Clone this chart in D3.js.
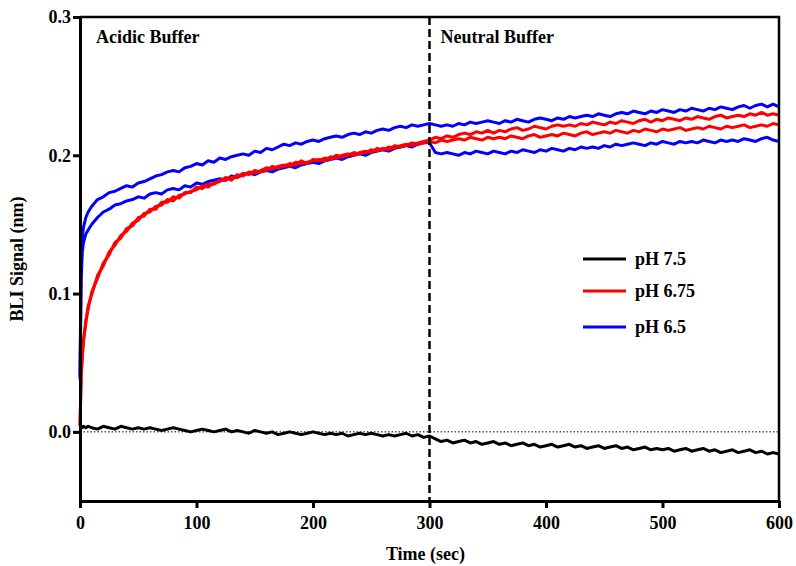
<!DOCTYPE html>
<html>
<head>
<meta charset="utf-8">
<script src="https://cdn.jsdelivr.net/npm/d3@7"></script>
<style>
    body { margin: 0; background: #fff; }
    .axis path, .axis line { stroke: #000; stroke-width: 3; }
</style>
</head>
<body>
<svg id="bli" width="796" height="566" font-family="Liberation Serif, Times New Roman, serif" font-weight="bold" font-size="18"></svg>
<script>
// time points (sec)
let times = [0, 1, 2, 3, 5, 7,
    10, 15, 20, 25, 30, 35, 40, 45, 50, 55,
    60, 65, 70, 75, 80, 85, 90, 95, 100, 105,
    110, 115, 120, 125, 130, 135, 140, 145, 150, 155,
    160, 165, 170, 175, 180, 185, 190, 195, 200, 205,
    210, 215, 220, 225, 230, 235, 240, 245, 250, 255,
    260, 265, 270, 275, 280, 285, 290, 295, 300, 305,
    310, 315, 320, 325, 330, 335, 340, 345, 350, 355,
    360, 365, 370, 375, 380, 385, 390, 395, 400, 405,
    410, 415, 420, 425, 430, 435, 440, 445, 450, 455,
    460, 465, 470, 475, 480, 485, 490, 495, 500, 505,
    510, 515, 520, 525, 530, 535, 540, 545, 550, 555,
    560, 565, 570, 575, 580, 585, 590, 595, 600]

let ph75 = [0.003, 0.004, 0.003, 0.004, 0.003, 0.004,
    0.003, 0.002, 0.004, 0.003, 0.002, 0.004, 0.003, 0.002, 0.003, 0.002,
    0.003, 0.002, 0.001, 0.002, 0.003, 0.002, 0.001, 0.000, 0.001, 0.002,
    0.001, 0.000, 0.001, 0.002, 0.000, 0.001, 0.000, -0.001, 0.001, 0.000,
    -0.001, 0.000, -0.002, -0.001, 0.000, -0.001, -0.002, -0.001, 0.000, -0.001,
    -0.002, -0.001, -0.002, -0.001, -0.003, -0.002, -0.001, -0.002, -0.001, -0.002,
    -0.003, -0.002, -0.003, -0.002, -0.001, -0.003, -0.002, -0.004, -0.003, -0.005,
    -0.007, -0.006, -0.008, -0.007, -0.006, -0.008, -0.007, -0.009, -0.008, -0.007,
    -0.009, -0.008, -0.010, -0.009, -0.008, -0.010, -0.009, -0.011, -0.010, -0.009,
    -0.011, -0.010, -0.009, -0.011, -0.010, -0.012, -0.011, -0.010, -0.012, -0.011,
    -0.010, -0.012, -0.011, -0.013, -0.012, -0.011, -0.013, -0.012, -0.013, -0.012,
    -0.014, -0.013, -0.012, -0.014, -0.013, -0.012, -0.014, -0.013, -0.015, -0.014,
    -0.013, -0.015, -0.014, -0.013, -0.015, -0.014, -0.016, -0.015, -0.016]

let ph675a = [0.005, 0.041, 0.055, 0.067, 0.079, 0.091,
    0.099, 0.113, 0.120, 0.130, 0.135, 0.142, 0.145, 0.151, 0.153, 0.158,
    0.159, 0.163, 0.164, 0.168, 0.167, 0.171, 0.172, 0.174, 0.175, 0.178,
    0.177, 0.180, 0.181, 0.184, 0.182, 0.186, 0.185, 0.188, 0.187, 0.189,
    0.191, 0.190, 0.192, 0.193, 0.192, 0.195, 0.194, 0.195, 0.196, 0.197,
    0.196, 0.199, 0.198, 0.200, 0.201, 0.200, 0.202, 0.203, 0.202, 0.205,
    0.204, 0.206, 0.205, 0.207, 0.208, 0.207, 0.209, 0.210, 0.211, 0.213,
    0.212, 0.214, 0.213, 0.215, 0.216, 0.215, 0.217, 0.216, 0.218, 0.216,
    0.218, 0.217, 0.219, 0.220, 0.218, 0.219, 0.221, 0.220, 0.219, 0.221,
    0.222, 0.221, 0.222, 0.221, 0.223, 0.222, 0.224, 0.223, 0.222, 0.224,
    0.223, 0.225, 0.224, 0.223, 0.225, 0.226, 0.224, 0.226, 0.225, 0.227,
    0.226, 0.225, 0.227, 0.226, 0.228, 0.227, 0.226, 0.228, 0.229, 0.227,
    0.228, 0.229, 0.228, 0.230, 0.229, 0.231, 0.229, 0.230, 0.229]

let ph675b = [0.004, 0.039, 0.056, 0.065, 0.080, 0.089,
    0.101, 0.111, 0.122, 0.128, 0.137, 0.140, 0.147, 0.149, 0.155, 0.156,
    0.161, 0.161, 0.166, 0.166, 0.170, 0.169, 0.173, 0.173, 0.177, 0.176,
    0.179, 0.179, 0.182, 0.182, 0.184, 0.184, 0.187, 0.186, 0.189, 0.188,
    0.189, 0.192, 0.191, 0.192, 0.194, 0.193, 0.196, 0.194, 0.197, 0.196,
    0.198, 0.197, 0.200, 0.199, 0.200, 0.202, 0.201, 0.202, 0.204, 0.203,
    0.205, 0.204, 0.207, 0.206, 0.207, 0.209, 0.208, 0.209, 0.210, 0.209,
    0.211, 0.210, 0.211, 0.212, 0.211, 0.213, 0.212, 0.211, 0.213, 0.212,
    0.213, 0.212, 0.214, 0.213, 0.212, 0.214, 0.215, 0.213, 0.214, 0.215,
    0.214, 0.216, 0.215, 0.214, 0.216, 0.217, 0.215, 0.216, 0.217, 0.216,
    0.218, 0.217, 0.216, 0.218, 0.217, 0.219, 0.218, 0.217, 0.219, 0.218,
    0.219, 0.220, 0.218, 0.219, 0.220, 0.219, 0.221, 0.220, 0.219, 0.221,
    0.220, 0.221, 0.222, 0.220, 0.221, 0.222, 0.221, 0.223, 0.222]

let ph65a = [0.040, 0.125, 0.141, 0.148, 0.155, 0.159,
    0.163, 0.168, 0.170, 0.173, 0.174, 0.176, 0.178, 0.177, 0.180, 0.181,
    0.183, 0.185, 0.186, 0.188, 0.189, 0.188, 0.191, 0.192, 0.194, 0.193,
    0.196, 0.195, 0.198, 0.197, 0.199, 0.200, 0.201, 0.200, 0.203, 0.202,
    0.205, 0.204, 0.206, 0.208, 0.207, 0.209, 0.208, 0.210, 0.211, 0.210,
    0.212, 0.213, 0.214, 0.213, 0.215, 0.216, 0.215, 0.217, 0.216, 0.218,
    0.219, 0.218, 0.220, 0.221, 0.220, 0.222, 0.221, 0.222, 0.223, 0.222,
    0.221, 0.222, 0.221, 0.223, 0.222, 0.224, 0.223, 0.224, 0.225, 0.224,
    0.223, 0.225, 0.224, 0.226, 0.225, 0.224, 0.226, 0.227, 0.226, 0.225,
    0.227, 0.226, 0.228, 0.227, 0.228, 0.229, 0.228, 0.230, 0.229, 0.228,
    0.230, 0.231, 0.230, 0.232, 0.231, 0.230, 0.232, 0.231, 0.233, 0.232,
    0.231, 0.233, 0.232, 0.234, 0.233, 0.232, 0.234, 0.233, 0.235, 0.234,
    0.233, 0.235, 0.236, 0.234, 0.236, 0.237, 0.235, 0.237, 0.235]

let ph65b = [0.038, 0.110, 0.130, 0.137, 0.143, 0.146,
    0.150, 0.155, 0.159, 0.161, 0.164, 0.165, 0.167, 0.168, 0.170, 0.169,
    0.172, 0.173, 0.172, 0.175, 0.176, 0.175, 0.178, 0.177, 0.180, 0.179,
    0.181, 0.182, 0.183, 0.182, 0.185, 0.184, 0.186, 0.187, 0.186, 0.188,
    0.189, 0.188, 0.190, 0.191, 0.192, 0.191, 0.193, 0.194, 0.195, 0.194,
    0.196, 0.197, 0.198, 0.197, 0.199, 0.200, 0.201, 0.200, 0.202, 0.203,
    0.204, 0.203, 0.205, 0.206, 0.207, 0.206, 0.208, 0.209, 0.209, 0.202,
    0.201, 0.202, 0.201, 0.200, 0.202, 0.201, 0.203, 0.202, 0.201, 0.203,
    0.202, 0.201, 0.203, 0.202, 0.204, 0.203, 0.202, 0.204, 0.203, 0.205,
    0.204, 0.203, 0.205, 0.204, 0.206, 0.205, 0.206, 0.205, 0.207, 0.206,
    0.208, 0.207, 0.208, 0.209, 0.208, 0.207, 0.209, 0.208, 0.210, 0.209,
    0.208, 0.210, 0.209, 0.210, 0.209, 0.211, 0.210, 0.209, 0.211, 0.210,
    0.211, 0.210, 0.212, 0.211, 0.210, 0.212, 0.213, 0.211, 0.210]

let xTicks = [0, 100, 200, 300, 400, 500, 600]
let yTicks = [0.0, 0.1, 0.2, 0.3]
let legendLabels = ['pH 7.5', 'pH 6.75', 'pH 6.5']
let legendColors = ['#000000', '#ff0000', '#0000ff']
let switchTime = 300

function main() {
    let svg = d3.select('#bli'),
        margin = {top: 17, bottom: 65, left: 80, right: 17},
        width = svg.attr('width') - margin.left - margin.right,
        height = svg.attr('height') - margin.top - margin.bottom

    let xScale = d3.scaleLinear().domain([0, 600]).range([margin.left, margin.left + width]),
        yScale = d3.scaleLinear().domain([-0.05, 0.3]).range([margin.top + height, margin.top])

    let series = [
        {values: ph75, color: '#000000'},
        {values: ph65a, color: '#0000ff'},
        {values: ph65b, color: '#0000ff'},
        {values: ph675b, color: '#ff0000'},
        {values: ph675a, color: '#ff0000'}
    ]

    // dotted zero line
    svg.append('line')
        .attr('x1', xScale(0)).attr('x2', xScale(600))
        .attr('y1', yScale(0)).attr('y2', yScale(0))
        .attr('stroke', '#000')
        .attr('stroke-width', 1)
        .attr('stroke-dasharray', '1.5,2')

    let line = d3.line()
        .x((d, i) => xScale(times[i]))
        .y(d => yScale(d))

    svg.selectAll('.trace')
        .data(series)
        .enter()
        .append('path')
        .attr('class', 'trace')
        .attr('fill', 'none')
        .attr('stroke', s => s.color)
        .attr('stroke-width', 3)
        .attr('stroke-linejoin', 'round')
        .attr('d', s => line(s.values))

    // buffer switch
    svg.append('line')
        .attr('x1', xScale(switchTime)).attr('x2', xScale(switchTime))
        .attr('y1', yScale(0.3)).attr('y2', yScale(-0.05))
        .attr('stroke', '#000')
        .attr('stroke-width', 2.5)
        .attr('stroke-dasharray', '8,4')

    // frame top and right
    svg.append('path')
        .attr('d', 'M' + xScale(0) + ',' + yScale(0.3) + 'H' + xScale(600) + 'V' + yScale(-0.05))
        .attr('fill', 'none')
        .attr('stroke', '#000')
        .attr('stroke-width', 2.5)

    svg.append('g')
        .attr('class', 'axis')
        .attr('transform', 'translate(0, ' + (margin.top + height) + ')')
        .call(d3.axisBottom(xScale).tickValues(xTicks).tickSize(7).tickSizeOuter(0).tickPadding(8))

    svg.append('g')
        .attr('class', 'axis')
        .attr('transform', 'translate(' + margin.left + ', 0)')
        .call(d3.axisLeft(yScale).tickValues(yTicks).tickFormat(d3.format('.1f')).tickSize(7).tickSizeOuter(0).tickPadding(2))

    // let the svg font settings reach the tick labels
    svg.selectAll('.axis').attr('font-family', null).attr('font-size', null)
    svg.selectAll('.axis text').attr('fill', '#000')

    svg.append('text')
        .attr('text-anchor', 'middle')
        .attr('x', margin.left + width / 2 - 4)
        .attr('y', 560)
        .text('Time (sec)')

    svg.append('text')
        .attr('text-anchor', 'middle')
        .attr('transform', 'translate(23,' + (margin.top + height / 2) + ') rotate(-90)')
        .text('BLI Signal (nm)')

    svg.append('text')
        .attr('x', 96)
        .attr('y', 43)
        .text('Acidic Buffer')

    svg.append('text')
        .attr('x', xScale(switchTime) + 11)
        .attr('y', 43)
        .text('Neutral Buffer')

    // legend
    let legendY = [259, 291, 327]
    let legend = svg.append('g').attr('class', 'legend')
    legend.selectAll('line')
        .data(legendLabels)
        .enter()
        .append('line')
        .attr('x1', 583).attr('x2', 626)
        .attr('y1', (d, i) => legendY[i]).attr('y2', (d, i) => legendY[i])
        .attr('stroke', (d, i) => legendColors[i])
        .attr('stroke-width', 3)
    legend.selectAll('text')
        .data(legendLabels)
        .enter()
        .append('text')
        .attr('x', 635)
        .attr('y', (d, i) => legendY[i])
        .attr('dy', '0.35em')
        .text(d => d)
}

main()
</script>
</body>
</html>
